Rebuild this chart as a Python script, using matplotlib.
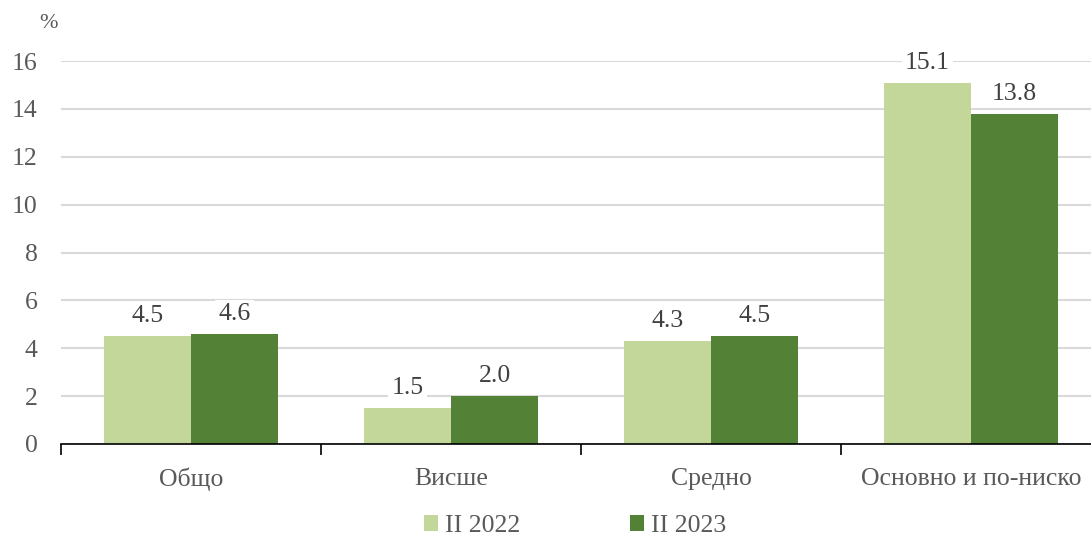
import matplotlib.pyplot as plt
import numpy as np

plt.rcParams["font.family"] = ["Liberation Serif", "DejaVu Serif"]

categories = ["Общо", "Висше", "Средно", "Основно и по-ниско"]
series_names = ["II 2022", "II 2023"]
values_2022 = [4.5, 1.5, 4.3, 15.1]
values_2023 = [4.6, 2.0, 4.5, 13.8]
y_ticks = [0, 2, 4, 6, 8, 10, 12, 14, 16]

light = "#C4D79B"
dark = "#538135"
text_gray = "#595959"
fs = 18.5

fig = plt.figure(figsize=(10.91, 5.39), dpi=100)
ax = fig.add_axes([61 / 1091, 1 - 444 / 539, 1040 / 1091, (444 - 61) / 539])

x = np.arange(len(categories))
w = 0.335
b1 = ax.bar(x - w / 2, values_2022, w, color=light, label=series_names[0], zorder=2)
b2 = ax.bar(x + w / 2, values_2023, w, color=dark, label=series_names[1], zorder=2)

for bars in (b1, b2):
    for rect in bars:
        h = rect.get_height()
        ax.annotate(f"{h:.1f}", (rect.get_x() + rect.get_width() / 2, h),
                    xytext=(0, 20), textcoords="offset pixels",
                    ha="center", va="center", fontsize=fs, color="#404040",
                    bbox=dict(boxstyle="square,pad=0.12", fc="white", ec="none"),
                    zorder=3)

ax.set_xlim(-0.5, len(categories) - 0.5)
ax.set_ylim(0, 16)
ax.set_yticks(y_ticks)
ax.yaxis.grid(True, color="#D9D9D9", linewidth=1.5, zorder=0)
ax.set_axisbelow(True)

for s in ["top", "right", "left"]:
    ax.spines[s].set_visible(False)
ax.spines["bottom"].set_color("black")
ax.spines["bottom"].set_linewidth(1.2)

# category boundary ticks
ax.set_xticks(np.arange(len(categories) + 1) - 0.5, minor=False)
ax.set_xticklabels([])
ax.tick_params(axis="x", which="major", direction="out", length=8, width=1.2, color="black")
ax.set_xticks(x, minor=True)
ax.set_xticklabels(categories, minor=True)
ax.tick_params(axis="x", which="minor", length=0, pad=17, labelsize=fs, labelcolor=text_gray)
ax.tick_params(axis="y", length=0, pad=17, labelsize=fs, labelcolor=text_gray)

fig.text(49 / 1091, 1 - 24 / 539, "%", fontsize=16, color=text_gray, ha="center", va="center")

fig.legend(handles=[b1, b2], labels=series_names, loc="center", ncol=2,
           bbox_to_anchor=(575 / 1091, 1 - 526 / 539), frameon=False,
           fontsize=fs, labelcolor=text_gray, handlelength=0.55, handleheight=0.55,
           handletextpad=0.25, columnspacing=4.3)

fig.savefig("out.png", dpi=100)
